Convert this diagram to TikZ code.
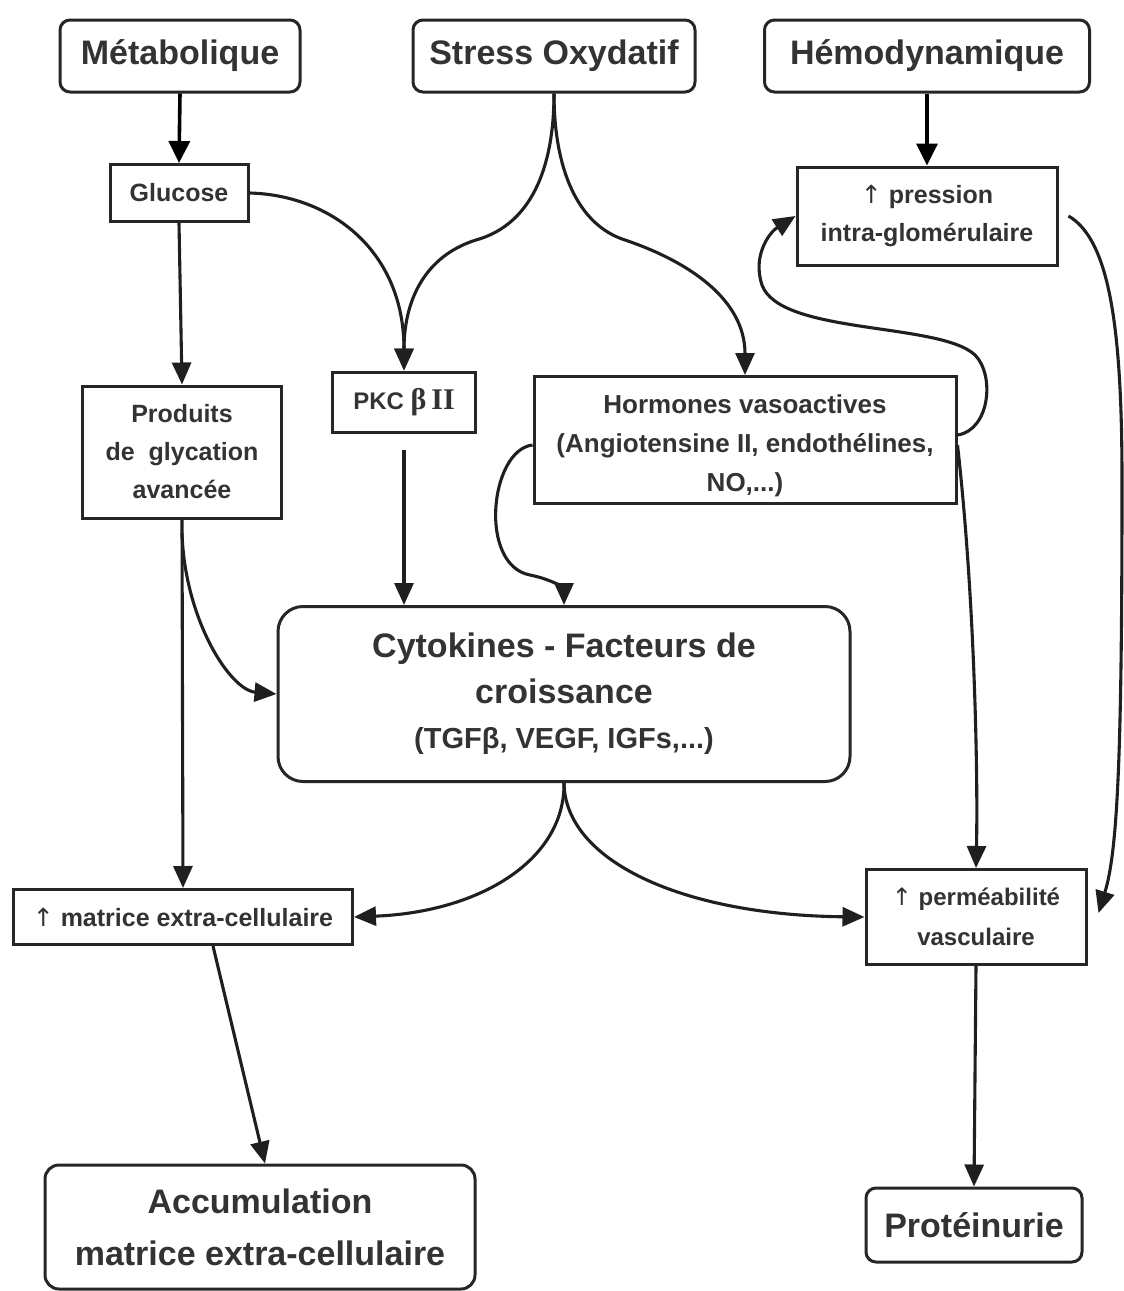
\documentclass[tikz,border=0pt]{standalone}
\usepackage{fontspec}
\setmainfont{Liberation Sans}
\newfontfamily\serifgr{Liberation Serif}
\newfontfamily\arrfont{DejaVu Sans}
\usetikzlibrary{arrows.meta}
\newcommand{\upar}{{\arrfont\mdseries\char"2191}}
\newcommand{\fs}[2]{\fontsize{#1}{#2}\selectfont}
\begin{document}
\begin{tikzpicture}[x=1pt,y=-1pt]
\tikzset{
 box/.style={draw=black!85, line width=3pt, fill=white, align=center, inner sep=0pt, text=black!80, font=\bfseries},
 rbox/.style={box, rounded corners=10pt},
 con/.style={draw=black!88, line width=3.1pt, -{Triangle[length=22pt,width=19pt]}},
 bigcon/.style={draw=black, line width=3.6pt, -{Triangle[length=22pt,width=21pt]}},
}
\useasboundingbox[fill=white] (0,0) rectangle (1124,1291);

% nodes
\node[rbox, minimum width=240pt, minimum height=72pt, font=\bfseries\fs{34}{40}] (met) at (180,56) {Métabolique};
\node[rbox, minimum width=282pt, minimum height=72pt, font=\bfseries\fs{34}{40}] (stress) at (554,56) {Stress Oxydatif};
\node[rbox, minimum width=325pt, minimum height=72pt, font=\bfseries\fs{34}{40}] (hemo) at (927,56) {Hémodynamique};
\node[box, minimum width=138pt, minimum height=57pt, font=\bfseries\fs{25}{30}] (gluc) at (179,193) {Glucose};
\node[box, minimum width=260pt, minimum height=98pt, font=\bfseries\fs{25}{38}] (press) at (927,216) {\upar\ pression\\intra-glomérulaire};
\node[box, minimum width=199pt, minimum height=132pt, font=\bfseries\fs{25}{38}] (prod) at (182,452) {Produits\\de\ \ glycation\\avancée};
\node[box, minimum width=143pt, minimum height=60pt, font=\bfseries\fs{24}{30}] (pkc) at (404,402) {PKC {\serifgr\bfseries\fs{30}{30}β\,II}};
\node[box, minimum width=422pt, minimum height=127pt,
  label={[yshift=-6pt, font=\bfseries\fs{26}{39}, text=black!80, align=center, inner sep=0pt]center:{Hormones vasoactives\\(Angiotensine II, endothélines,\\NO,...)}}] (horm) at (745,440) {};
\node[box, rounded corners=25pt, minimum width=572pt, minimum height=175pt, font=\bfseries\fs{34}{46}] (cyto) at (564,694) {Cytokines - Facteurs de\\croissance\\[-1pt]{\fs{29}{32}(TGFβ, VEGF, IGFs,...)}};
\node[box, minimum width=339pt, minimum height=55pt, font=\bfseries\fs{25}{30}] (matr) at (183,917) {\upar\ matrice extra-cellulaire};
\node[box, minimum width=220pt, minimum height=95pt, font=\bfseries\fs{24}{40}] (perm) at (976,917) {\upar\ perméabilité\\vasculaire};
\node[rbox, rounded corners=14pt, minimum width=430pt, minimum height=124pt, font=\bfseries\fs{34}{52}] (accu) at (260,1227) {Accumulation\\matrice extra-cellulaire};
\node[rbox, minimum width=216pt, minimum height=74pt, font=\bfseries\fs{34}{40}] (prot) at (974,1225) {Protéinurie};

% connectors
\draw[bigcon] (met.south) -- (gluc.north);
\draw[bigcon] (hemo.south) -- (press.north);
\draw[con] (gluc.south) -- (prod.north);
\draw[con] (gluc.east) .. controls (330,195) and (404,250) .. (pkc.north);
\draw[con] (stress.south) .. controls (554,170) and (530,225) .. (476,240) .. controls (425,256) and (404,300) .. (pkc.north);
\draw[con] (stress.south) .. controls (554,170) and (578,225) .. (625,240) .. controls (690,262) and (745,300) .. (horm.north);
\draw[con] ([yshift=-16pt]pkc.south) -- (pkc.south |- cyto.north);
\draw[con] (prod.south) -- (matr.north);
\draw[con] ([yshift=-14pt]prod.south) .. controls (185,620) and (230,690) .. (cyto.west);
\draw[con] ([yshift=-5pt]horm.west) .. controls (490,450) and (478,565) .. (530,575) .. controls (555,580) and (564,590) .. (cyto.north);
\draw[con] ([yshift=5pt]horm.east) .. controls (990,430) and (995,375) .. (975,355) .. controls (940,322) and (780,335) .. (762,285) .. controls (752,255) and (770,232) .. (press.west);
\draw[con] ([yshift=-5pt]horm.east) .. controls (975,600) and (978,780) .. (perm.north);
\draw[con] ([xshift=10pt]press.east) .. controls (1110,240) and (1122,330) .. (1122,480) .. controls (1122,750) and (1118,850) .. ([xshift=11pt,yshift=4pt]perm.east);
\draw[con] (cyto.south) .. controls (565,860) and (480,912) .. (matr.east);
\draw[con] (cyto.south) .. controls (565,860) and (680,915) .. (perm.west);
\draw[con] ([xshift=30pt]matr.south) -- ([xshift=5pt]accu.north);
\draw[con] (perm.south) -- (prot.north);
\end{tikzpicture}
\end{document}
